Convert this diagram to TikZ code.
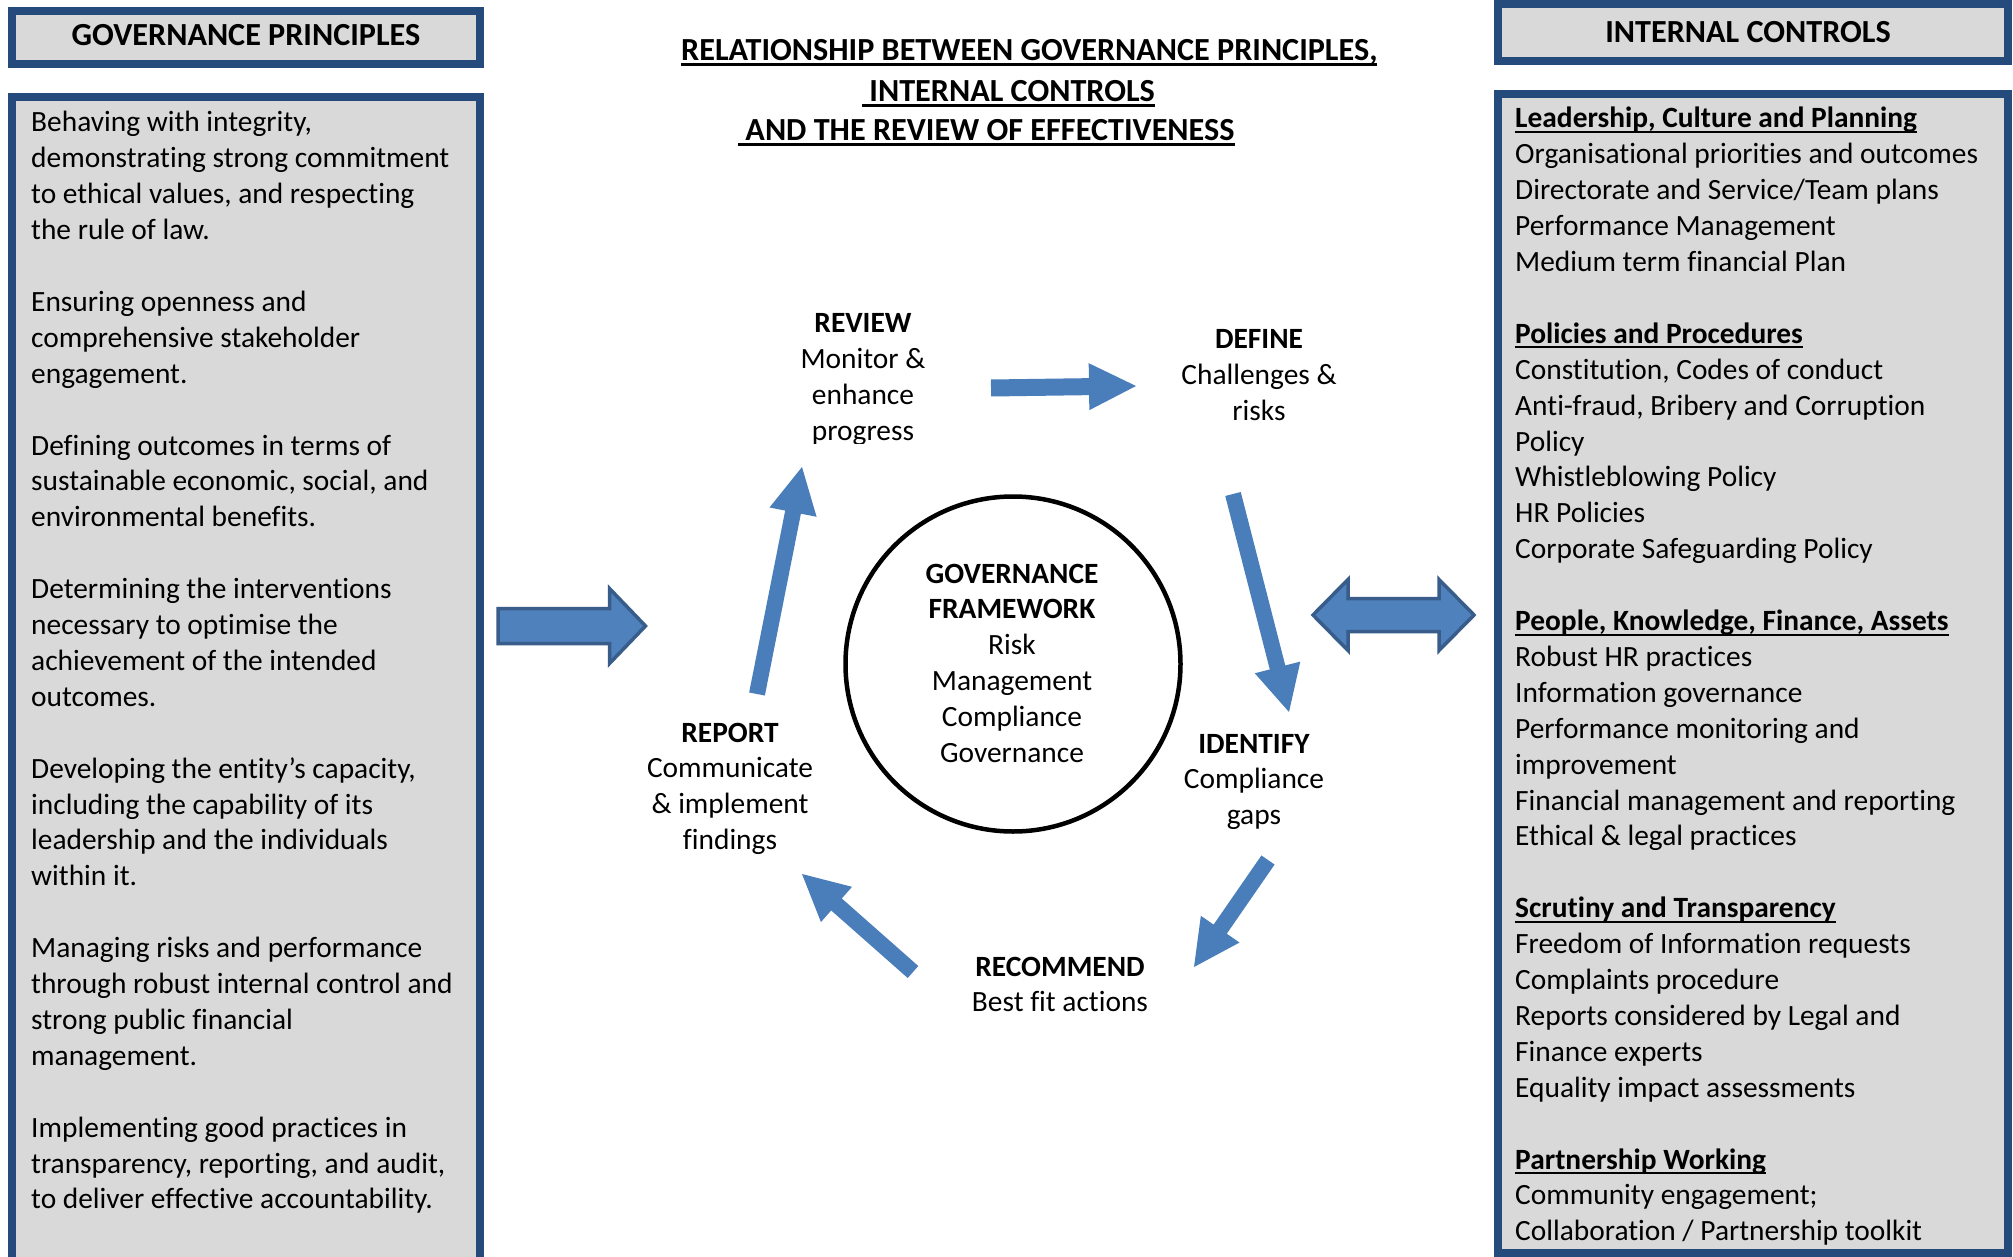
\documentclass[tikz,border=0pt]{standalone}
\usepackage{fontspec}
\setmainfont{Carlito}[Ligatures={NoCommon}]
\usetikzlibrary{calc}
\definecolor{boxblue}{HTML}{254B7D}
\definecolor{boxgray}{HTML}{D9D9D9}
\definecolor{arrowblue}{HTML}{4A7EBB}
\definecolor{bigblue}{HTML}{4F81BD}
\definecolor{arrowedge}{HTML}{385D8A}
\newsavebox\ulbox
\newcommand\ulx[1]{\sbox\ulbox{#1}\rlap{\rule[-5pt]{\wd\ulbox}{2pt}}\usebox\ulbox}
\newcommand\ulbig[1]{\sbox\ulbox{#1}\rlap{\rule[-5.5pt]{\wd\ulbox}{3pt}}\usebox\ulbox}
\newcommand\bodyfont{\fontsize{29.4}{35.9}\selectfont}
\newcommand\headfont{\fontsize{32.2}{39.5}\selectfont}
\newcommand\blockarrow[6][]{%
  \path let \p1=(#2),\p2=(#3) in \pgfextra{%
    \pgfmathsetmacro\bAng{atan2((\y2)-(\y1),(\x2)-(\x1))}%
    \pgfmathsetmacro\bLen{veclen((\x2)-(\x1),(\y2)-(\y1))}%
    \xdef\bAng{\bAng}\xdef\bLen{\bLen}};
  \begin{scope}[shift={(#2)},rotate=\bAng]
    \path[#1] (0,#4) -- ({\bLen-#6},#4) -- ({\bLen-#6},#5) -- (\bLen,0)
      -- ({\bLen-#6},-#5) -- ({\bLen-#6},-#4) -- (0,-#4) -- cycle;
  \end{scope}}
\tikzset{
  panel/.style={draw=boxblue, line width=8pt, fill=boxgray},
  lbl/.style={inner sep=0pt, anchor=base, font=\bodyfont},
  txt/.style={inner sep=0pt, anchor=base west, font=\bodyfont},
  thinarrow/.style={fill=arrowblue},
  bigarrow/.style={fill=bigblue, draw=arrowedge, line width=3.5pt, line join=miter},
}
\begin{document}
\begin{tikzpicture}[x=1pt,y=-1pt]
\useasboundingbox (0,0) rectangle (2013,1257);
\fill[white] (0,0) rectangle (2013,1257);

% panels
\draw[panel] (12,11) rectangle (480,64);
\draw[panel] (12,97) rectangle (480,1300);
\draw[panel] (1498,4) rectangle (2008,61);
\draw[panel] (1498,94) rectangle (2008,1253);

\node[lbl, font=\headfont\bfseries] (gphead) at (246,46) {GOVERNANCE PRINCIPLES};
\node[lbl, font=\headfont\bfseries] (ichead) at (1748,43) {INTERNAL CONTROLS};

\node[txt] (gptext) at (31,132) {\begin{tabular}[t]{@{}l@{}}
Behaving with integrity,\\
demonstrating strong commitment\\
to ethical values, and respecting\\
the rule of law.\\
\\
Ensuring openness and\\
comprehensive stakeholder\\
engagement.\\
\\
Defining outcomes in terms of\\
sustainable economic, social, and\\
environmental benefits.\\
\\
Determining the interventions\\
necessary to optimise the\\
achievement of the intended\\
outcomes.\\
\\
Developing the entity’s capacity,\\
including the capability of its\\
leadership and the individuals\\
within it.\\
\\
Managing risks and performance\\
through robust internal control and\\
strong public financial\\
management.\\
\\
Implementing good practices in\\
transparency, reporting, and audit,\\
to deliver effective accountability.
\end{tabular}};

\node[txt] (ictext) at (1515,128) {\begin{tabular}[t]{@{}l@{}}
\ulx{\textbf{Leadership, Culture and Planning}}\\
Organisational priorities and outcomes\\
Directorate and Service/Team plans\\
Performance Management\\
Medium term financial Plan\\
\\
\ulx{\textbf{Policies and Procedures}}\\
Constitution, Codes of conduct\\
Anti-fraud, Bribery and Corruption\\
Policy\\
Whistleblowing Policy\\
HR Policies\\
Corporate Safeguarding Policy\\
\\
\ulx{\textbf{People, Knowledge, Finance, Assets}}\\
Robust HR practices\\
Information governance\\
Performance monitoring and\\
improvement\\
Financial management and reporting\\
Ethical \& legal practices\\
\\
\ulx{\textbf{Scrutiny and Transparency}}\\
Freedom of Information requests\\
Complaints procedure\\
Reports considered by Legal and\\
Finance experts\\
Equality impact assessments\\
\\
\ulx{\textbf{Partnership Working}}\\
Community engagement;\\
Collaboration / Partnership toolkit
\end{tabular}};

% title
\node[txt, font=\headfont\bfseries] (t1) at (681,61) {\ulbig{RELATIONSHIP BETWEEN GOVERNANCE PRINCIPLES,}};
\node[txt, font=\headfont\bfseries] (t2) at (862,102) {\ulbig{\ INTERNAL CONTROLS}};
\node[txt, font=\headfont\bfseries] (t3) at (738,141) {\ulbig{\ AND THE REVIEW OF EFFECTIVENESS}};

% central framework
\node[draw, line width=4.5pt, circle, minimum size=335pt, inner sep=0pt] (fw) at (1013,664) {};
\node[lbl] (fwtext) at (1012,583) {\begin{tabular}[t]{@{}c@{}}
\textbf{GOVERNANCE}\\ \textbf{FRAMEWORK}\\ Risk\\ Management\\ Compliance\\ Governance
\end{tabular}};

% cycle labels
\begin{scope}
\clip (700,280) rectangle (1000,443);
\node[lbl] (review) at (863,333) {\begin{tabular}[t]{@{}c@{}}
\textbf{REVIEW}\\ Monitor \&\\ enhance\\ progress\end{tabular}};
\end{scope}
\node[lbl] (define) at (1259,348.5) {\begin{tabular}[t]{@{}c@{}}
\textbf{DEFINE}\\ Challenges \&\\ risks\end{tabular}};
\node[lbl] (identify) at (1254,753) {\begin{tabular}[t]{@{}c@{}}
\textbf{IDENTIFY}\\ Compliance\\ gaps\end{tabular}};
\node[lbl] (recommend) at (1060,976) {\begin{tabular}[t]{@{}c@{}}
\textbf{RECOMMEND}\\ Best fit actions\end{tabular}};
\node[lbl] (report) at (730,742) {\begin{tabular}[t]{@{}c@{}}
\textbf{REPORT}\\ Communicate\\ \& implement\\ findings\end{tabular}};

% arrow end points
\coordinate (a1s) at (991,388);   \coordinate (a1e) at (1136,386);
\coordinate (a2s) at (1233,494);  \coordinate (a2e) at (1289,712);
\coordinate (a3s) at (1268,860);  \coordinate (a3e) at (1194,967);
\coordinate (a4s) at (913,972);   \coordinate (a4e) at (802,874);
\coordinate (a5s) at (757,694);   \coordinate (a5e) at (802,467);
\coordinate (bgs) at (498,626);   \coordinate (bge) at (645.5,626);
\coordinate (da1) at (1311,615);

\blockarrow[thinarrow]{a1s}{a1e}{8.5}{23.5}{47}
\blockarrow[thinarrow]{a2s}{a2e}{8}{23.5}{46}
\blockarrow[thinarrow]{a3s}{a3e}{8}{23.5}{46}
\blockarrow[thinarrow]{a4s}{a4e}{8}{23.5}{46}
\blockarrow[thinarrow]{a5s}{a5e}{8}{24}{46}
\blockarrow[bigarrow]{bgs}{bge}{17.5}{37.5}{36}

\begin{scope}[shift={(da1)}]
\path[bigarrow] (2,0) -- (37,-35.5) -- (37,-16.5) -- (128,-16.5) -- (128,-35.5)
  -- (163,0) -- (128,35.5) -- (128,16.5) -- (37,16.5) -- (37,35.5) -- cycle;
\end{scope}
\end{tikzpicture}
\end{document}
